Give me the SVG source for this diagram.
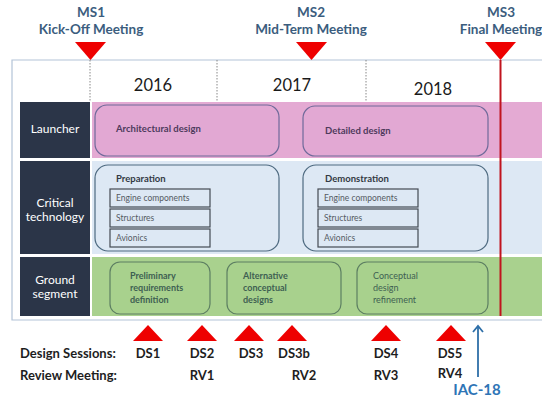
<svg xmlns="http://www.w3.org/2000/svg" width="542" height="398" viewBox="0 0 542 398">
  <style>
    text { font-family: Lato, "Liberation Sans", sans-serif; }
    .ms { font-size: 13.5px; font-weight: bold; fill: #3b5d7e; text-anchor: middle; }
    .year { font-size: 16.5px; fill: #1a1a1a; text-anchor: middle; }
    .rowlab { font-size: 12px; fill: #ffffff; text-anchor: middle; }
    .sep { stroke: #888888; stroke-width: 1; stroke-dasharray: 1.5 1.5; fill: none; }
    .pinkbox { fill: #e2a8d3; stroke: #6f6a9a; stroke-width: 1.2; }
    .bluebox { fill: #dde8f4; stroke: #4e6a80; stroke-width: 1.2; }
    .greenbox { fill: #a8d18d; stroke: #5d7f62; stroke-width: 1.2; }
    .sub { fill: #dde8f4; stroke: #444a52; stroke-width: 1.2; }
    .ptxt { font-size: 9.5px; font-weight: bold; fill: #4e3a5c; }
    .btitle { font-size: 9.5px; font-weight: bold; fill: #333a44; }
    .stxt { font-size: 8.5px; fill: #555b63; }
    .gtxt { font-size: 9px; font-weight: bold; fill: #3e5f52; }
    .gtxtn { font-size: 9px; fill: #3e5f52; }
    .tri { fill: #ee0000; }
    .blab { font-size: 13px; font-weight: bold; fill: #1e1e1e; }
    .blabc { font-size: 13px; font-weight: bold; fill: #1e1e1e; text-anchor: middle; }
  </style>
  <defs>
    <marker id="openArrow" markerWidth="12" markerHeight="12" refX="8" refY="6" orient="auto" markerUnits="userSpaceOnUse" viewBox="0 0 12 12">
      <path d="M2,1 L8,6 L2,11" fill="none" stroke="#2e6fa8" stroke-width="1.8"/>
    </marker>
  </defs>

  <rect width="542" height="398" fill="#ffffff"/>

  <!-- outer frame -->
  <g id="frame" fill="none" stroke="#b3c4d8" stroke-width="1.2">
    <path d="M542,60 H12 V320 H542"/>
  </g>

  <!-- milestones -->
  <g id="ms1">
    <text class="ms" x="91" y="17">MS1</text>
    <text class="ms" x="91" y="34">Kick-Off Meeting</text>
    <polygon class="tri" points="75,42 106,42 90.5,60"/>
  </g>
  <g id="ms2">
    <text class="ms" x="311" y="17">MS2</text>
    <text class="ms" x="311" y="34">Mid-Term Meeting</text>
    <polygon class="tri" points="296,42 327,42 311.5,60"/>
  </g>
  <g id="ms3">
    <text class="ms" x="501" y="17">MS3</text>
    <text class="ms" x="501" y="34">Final Meeting</text>
    <polygon class="tri" points="485,42 516,42 500.5,60"/>
  </g>

  <!-- years -->
  <g id="years">
    <text class="year" x="153" y="91">2016</text>
    <text class="year" x="292" y="91">2017</text>
    <text class="year" x="433" y="95">2018</text>
  </g>

  <!-- row bands -->
  <rect x="92" y="102" width="450" height="56" fill="#e4aad3"/>
  <rect x="92" y="161" width="450" height="93" fill="#dde8f4"/>
  <rect x="92" y="257" width="450" height="59" fill="#a9d18e"/>

  <!-- row labels -->
  <g id="row-launcher">
    <rect x="20" y="102" width="70" height="56" fill="#2b3548"/>
    <text class="rowlab" x="55" y="133">Launcher</text>
  </g>
  <g id="row-critical">
    <rect x="20" y="161" width="70" height="93" fill="#2b3548"/>
    <text class="rowlab" x="55" y="207">Critical</text>
    <text class="rowlab" x="55" y="221">technology</text>
  </g>
  <g id="row-ground">
    <rect x="20" y="257" width="70" height="59" fill="#2b3548"/>
    <text class="rowlab" x="55" y="284">Ground</text>
    <text class="rowlab" x="55" y="298">segment</text>
  </g>

  <!-- connectors: year separators, final line, IAC arrow -->
  <g id="connectors">
    <line class="sep" x1="90" y1="60" x2="90" y2="102"/>
    <line class="sep" x1="217" y1="60" x2="217" y2="102"/>
    <line class="sep" x1="366" y1="60" x2="366" y2="102"/>
    <line x1="500.5" y1="60" x2="500.5" y2="316" stroke="#c0141e" stroke-width="2"/>
    <line x1="478" y1="377" x2="478" y2="326" stroke="#2e6fa8" stroke-width="1.8" marker-end="url(#openArrow)"/>
  </g>

  <!-- launcher activities -->
  <g id="architectural-design">
    <rect class="pinkbox" x="95" y="105" width="184" height="51" rx="12"/>
    <text class="ptxt" x="116" y="132">Architectural design</text>
  </g>
  <g id="detailed-design">
    <rect class="pinkbox" x="303" y="106" width="185" height="50" rx="12"/>
    <text class="ptxt" x="325" y="134">Detailed design</text>
  </g>

  <!-- critical technology activities -->
  <g id="preparation">
    <rect class="bluebox" x="95" y="165" width="184" height="86" rx="13"/>
    <text class="btitle" x="116" y="182">Preparation</text>
    <rect class="sub" x="110" y="189" width="100" height="18"/>
    <text class="stxt" x="116" y="201">Engine components</text>
    <rect class="sub" x="110" y="209" width="100" height="18"/>
    <text class="stxt" x="116" y="221">Structures</text>
    <rect class="sub" x="110" y="229" width="100" height="18"/>
    <text class="stxt" x="116" y="241">Avionics</text>
  </g>
  <g id="demonstration">
    <rect class="bluebox" x="303" y="165" width="185" height="86" rx="13"/>
    <text class="btitle" x="325" y="182">Demonstration</text>
    <rect class="sub" x="318" y="189" width="100" height="18"/>
    <text class="stxt" x="324" y="201">Engine components</text>
    <rect class="sub" x="318" y="209" width="100" height="18"/>
    <text class="stxt" x="324" y="221">Structures</text>
    <rect class="sub" x="318" y="229" width="100" height="18"/>
    <text class="stxt" x="324" y="241">Avionics</text>
  </g>

  <!-- ground segment activities -->
  <g id="preliminary-requirements">
    <rect class="greenbox" x="110" y="262" width="100" height="52" rx="10"/>
    <text class="gtxt" x="130" y="279">Preliminary</text>
    <text class="gtxt" x="130" y="291">requirements</text>
    <text class="gtxt" x="130" y="303">definition</text>
  </g>
  <g id="alternative-designs">
    <rect class="greenbox" x="227" y="262" width="114" height="52" rx="10"/>
    <text class="gtxt" x="243" y="279">Alternative</text>
    <text class="gtxt" x="243" y="291">conceptual</text>
    <text class="gtxt" x="243" y="303">designs</text>
  </g>
  <g id="design-refinement">
    <rect class="greenbox" x="357" y="262" width="131" height="52" rx="10"/>
    <text class="gtxtn" x="373" y="279">Conceptual</text>
    <text class="gtxtn" x="373" y="291">design</text>
    <text class="gtxtn" x="373" y="303">refinement</text>
  </g>

  <!-- design sessions and reviews -->
  <g id="sessions">
    <polygon class="tri" points="133,341 163,341 148,325"/>
    <polygon class="tri" points="187,341 217,341 202,325"/>
    <polygon class="tri" points="234,341 264,341 249,325"/>
    <polygon class="tri" points="277,341 307,341 292,325"/>
    <polygon class="tri" points="371,341 401,341 386,325"/>
    <polygon class="tri" points="436,341 466,341 451,325"/>
    <text class="blab" x="20" y="358">Design Sessions:</text>
    <text class="blabc" x="148" y="358">DS1</text>
    <text class="blabc" x="202" y="358">DS2</text>
    <text class="blabc" x="251" y="358">DS3</text>
    <text class="blabc" x="294" y="358">DS3b</text>
    <text class="blabc" x="386" y="358">DS4</text>
    <text class="blabc" x="450" y="358">DS5</text>
    <text class="blab" x="20" y="380">Review Meeting:</text>
    <text class="blabc" x="202" y="380">RV1</text>
    <text class="blabc" x="304" y="380">RV2</text>
    <text class="blabc" x="386" y="380">RV3</text>
    <text class="blabc" x="450" y="378">RV4</text>
  </g>
  <g id="iac-18">
    <text x="477" y="395" text-anchor="middle" font-size="15" font-weight="bold" fill="#2e75b6">IAC-18</text>
  </g>
</svg>
